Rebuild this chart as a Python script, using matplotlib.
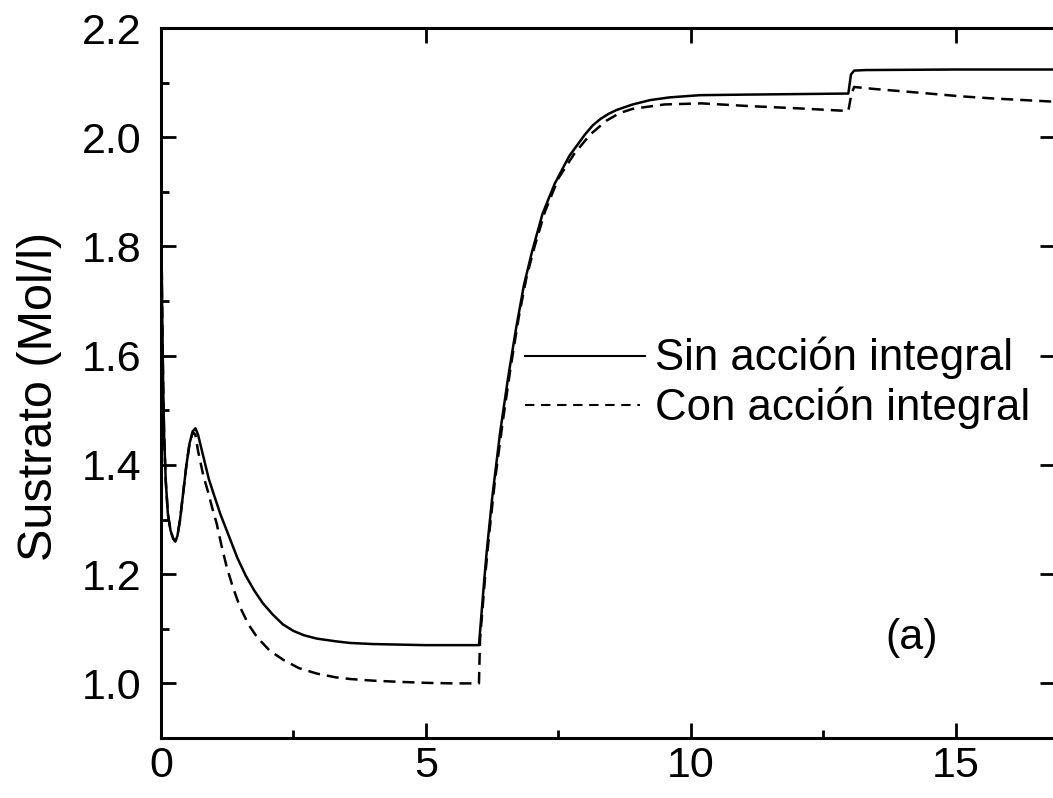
import matplotlib
matplotlib.use("Agg")
import matplotlib.pyplot as plt
from matplotlib.lines import Line2D
from matplotlib.ticker import MultipleLocator, FixedLocator

plt.rcParams['font.family'] = ['Liberation Sans', 'DejaVu Sans']

# Substrate concentration, controller without integral action
t_sin = [0.0, 0.02, 0.04, 0.06, 0.09, 0.13, 0.18, 0.23, 0.27, 0.31, 0.36, 0.42,
         0.48, 0.54, 0.60, 0.65, 0.70, 0.80, 0.90, 1.00, 1.12, 1.28, 1.44, 1.60,
         1.76, 1.92, 2.10, 2.30, 2.50, 2.70, 2.94, 3.30, 3.57, 4.00, 4.50, 5.00,
         5.50, 6.00, 6.05, 6.10, 6.15, 6.25, 6.40, 6.55, 6.70, 6.85, 7.00, 7.20,
         7.43, 7.70, 8.00, 8.15, 8.30, 8.45, 8.60, 8.90, 9.23, 9.60, 10.17, 11.00,
         12.00, 12.97, 13.02, 13.08, 13.30, 15.00, 16.87]
s_sin = [1.90, 1.70, 1.55, 1.45, 1.37, 1.31, 1.28, 1.265, 1.26, 1.27, 1.30, 1.35,
         1.40, 1.44, 1.462, 1.467, 1.455, 1.415, 1.375, 1.345, 1.31, 1.27, 1.23, 1.197,
         1.17, 1.147, 1.127, 1.108, 1.096, 1.088, 1.082, 1.077, 1.074, 1.072, 1.071, 1.070,
         1.070, 1.070, 1.13, 1.19, 1.245, 1.34, 1.46, 1.56, 1.65, 1.73, 1.79, 1.86,
         1.915, 1.965, 2.005, 2.022, 2.034, 2.043, 2.05, 2.06, 2.068, 2.073, 2.077, 2.078,
         2.079, 2.080, 2.115, 2.122, 2.123, 2.124, 2.124]

# Substrate concentration, controller with integral action
t_con = [0.0, 0.02, 0.04, 0.06, 0.09, 0.13, 0.18, 0.23, 0.27, 0.31, 0.36, 0.42,
         0.48, 0.54, 0.60, 0.65, 0.70, 0.80, 0.89, 0.97, 1.05, 1.14, 1.24, 1.36,
         1.49, 1.65, 1.81, 2.05, 2.31, 2.60, 2.94, 3.30, 3.57, 4.00, 4.45, 5.00,
         5.50, 6.00, 6.02, 6.07, 6.12, 6.20, 6.30, 6.45, 6.60, 6.75, 6.90, 7.05,
         7.25, 7.50, 7.80, 8.10, 8.40, 8.65, 8.90, 9.50, 10.20, 11.10, 12.00, 12.97,
         13.03, 13.08, 13.50, 14.13, 15.08, 15.70, 16.87]
s_con = [1.90, 1.70, 1.55, 1.45, 1.37, 1.31, 1.28, 1.265, 1.26, 1.27, 1.30, 1.35,
         1.40, 1.44, 1.46, 1.455, 1.425, 1.38, 1.35, 1.32, 1.293, 1.253, 1.213, 1.175,
         1.14, 1.108, 1.085, 1.06, 1.043, 1.028, 1.018, 1.011, 1.008, 1.005, 1.003, 1.001,
         1.000, 1.000, 1.08, 1.14, 1.20, 1.28, 1.37, 1.48, 1.58, 1.67, 1.745, 1.80,
         1.865, 1.925, 1.97, 2.005, 2.03, 2.044, 2.052, 2.06, 2.062, 2.057, 2.053, 2.048,
         2.08, 2.092, 2.088, 2.083, 2.075, 2.071, 2.065]

x_ticks = [0, 5, 10, 15]
y_ticks = [1.0, 1.2, 1.4, 1.6, 1.8, 2.0, 2.2]
y_tick_labels = ["1.0", "1.2", "1.4", "1.6", "1.8", "2.0", "2.2"]
legend_labels = ["Sin acción integral", "Con acción integral"]
y_label = "Sustrato (Mol/l)"
panel_label = "(a)"

W, H = 1053, 798
FS = 31
LW = 1.8
DASH = (4.8, 2.8)

fig = plt.figure(figsize=(W / 100, H / 100), dpi=100)
fig.patch.set_facecolor("white")


def fx(px):
    return px / W


def fy(py):
    return 1 - py / H


ax = fig.add_axes([fx(161), fy(738), fx(1055) - fx(161), fy(28) - fy(738)])

ax.plot(t_con, s_con, color="black", lw=LW, dashes=DASH)
ax.plot(t_sin, s_sin, color="black", lw=LW)

ax.set_xlim(0, 16.87)
ax.set_ylim(0.9, 2.2)
ax.xaxis.set_major_locator(FixedLocator(x_ticks))
ax.xaxis.set_minor_locator(MultipleLocator(2.5))
ax.yaxis.set_major_locator(FixedLocator(y_ticks))
ax.yaxis.set_minor_locator(MultipleLocator(0.1))
ax.set_xticklabels([str(v) for v in x_ticks])
ax.set_yticklabels(y_tick_labels)

for s in ax.spines.values():
    s.set_linewidth(2.2)

ax.tick_params(which="major", direction="in", length=11, width=2.0,
               top=True, right=True, labelsize=FS)
ax.tick_params(which="minor", direction="in", length=6, width=2.0,
               top=False, right=False)
ax.tick_params(axis="x", which="major", pad=6)
ax.tick_params(axis="y", which="major", pad=14)

fig.text(fx(40), fy(396), y_label, rotation=90, ha="center", va="center",
         fontsize=35)

# legend drawn in figure pixels
fig.add_artist(Line2D([fx(525), fx(645)], [fy(356), fy(356)], color="black", lw=1.5))
fig.add_artist(Line2D([fx(525), fx(640)], [fy(405), fy(405)], color="black", lw=1.5,
                      dashes=(4.5, 3.2)))
fig.text(fx(655), fy(370), legend_labels[0], ha="left", va="baseline", fontsize=31.5)
fig.text(fx(655), fy(420), legend_labels[1], ha="left", va="baseline", fontsize=31.5)

fig.text(fx(912), fy(638), panel_label, ha="center", va="center", fontsize=FS)

fig.savefig("out.png", dpi=100, facecolor="white")
